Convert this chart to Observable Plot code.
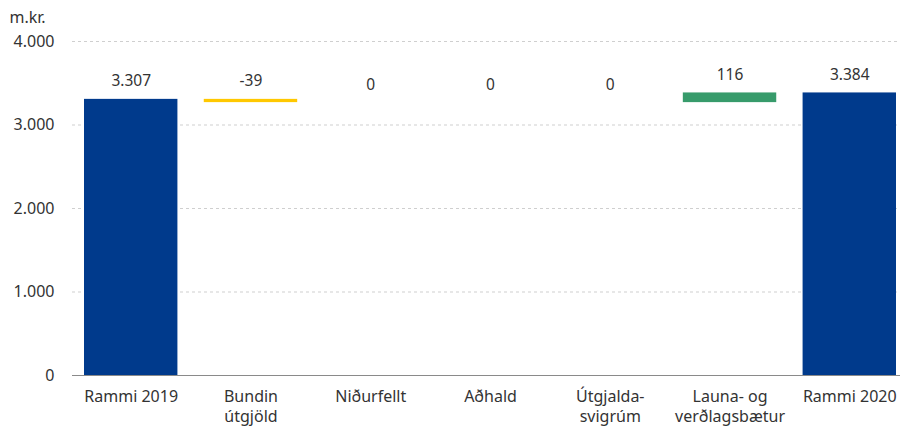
<!DOCTYPE html>
<html>
<head>
<meta charset="utf-8">
<script src="https://cdn.jsdelivr.net/npm/d3@7"></script>
<script src="https://cdn.jsdelivr.net/npm/@observablehq/plot@0.6"></script>
<style>
  html, body { margin: 0; padding: 0; background: #fff; }
</style>
</head>
<body>
<div id="chart"></div>
<script>
const categories = ["Rammi 2019", "Bundin\nútgjöld", "Niðurfellt", "Aðhald", "Útgjalda-\nsvigrúm", "Launa- og\nverðlagsbætur", "Rammi 2020"];
const values = [3307, -39, 0, 0, 0, 116, 3384];
const kinds = ["total", "change", "change", "change", "change", "change", "total"];
const yTicks = [0, 1000, 2000, 3000, 4000];
const unitLabel = "m.kr.";

const fmt = d => d3.format(",")(d).replace(/,/g, ".").replace(/\u2212/g, "-");

let run = 0;
const rows = categories.map((c, i) => {
  let y1, y2;
  if (kinds[i] === "total") { y1 = 0; y2 = values[i]; run = values[i]; }
  else { y1 = run; y2 = run + values[i]; run = y2; }
  const color = kinds[i] === "total" ? "#003a8c" : (values[i] < 0 ? "#ffc800" : "#379b6b");
  return { cat: c, y1, y2, top: Math.max(y1, y2), label: fmt(values[i]), color };
});

const chart = Plot.plot({
  width: 900,
  height: 432,
  marginLeft: 72,
  marginRight: 0,
  marginTop: 41,
  marginBottom: 57,
  style: { fontFamily: "Noto Sans, sans-serif", fontSize: "15px", color: "#333", background: "#fff" },
  x: { domain: categories, range: [84, 896], paddingInner: 0.22, paddingOuter: 0, round: false, label: null },
  y: { domain: [0, 4000], label: null },
  marks: [
    Plot.gridY(yTicks.filter(d => d > 0), { stroke: "#cfcfcf", strokeOpacity: 1, strokeDasharray: "3,3" }),
    Plot.rectY(rows.filter(d => d.y1 !== d.y2), { x: "cat", y1: "y1", y2: "y2", fill: "color" }),
    Plot.ruleY([0], { stroke: "#8a8a8a", strokeWidth: 1 }),
    Plot.text(rows, { x: "cat", y: "top", text: "label", dy: -18, lineAnchor: "middle", fill: "#333", fontSize: 15.5 }),
    Plot.axisY({ ticks: yTicks, tickSize: 0, tickPadding: 18, tickFormat: fmt, fontSize: 16, fill: "#333" }),
    Plot.axisX({ tickSize: 0, tickPadding: 12, lineHeight: 1.25, fontSize: 16, fill: "#333" }),
    Plot.text([unitLabel], { frameAnchor: "top-left", dx: -63, dy: -24, textAnchor: "start", lineAnchor: "middle", fontSize: 16, fill: "#333" })
  ]
});
document.getElementById("chart").appendChild(chart);
</script>
</body>
</html>
